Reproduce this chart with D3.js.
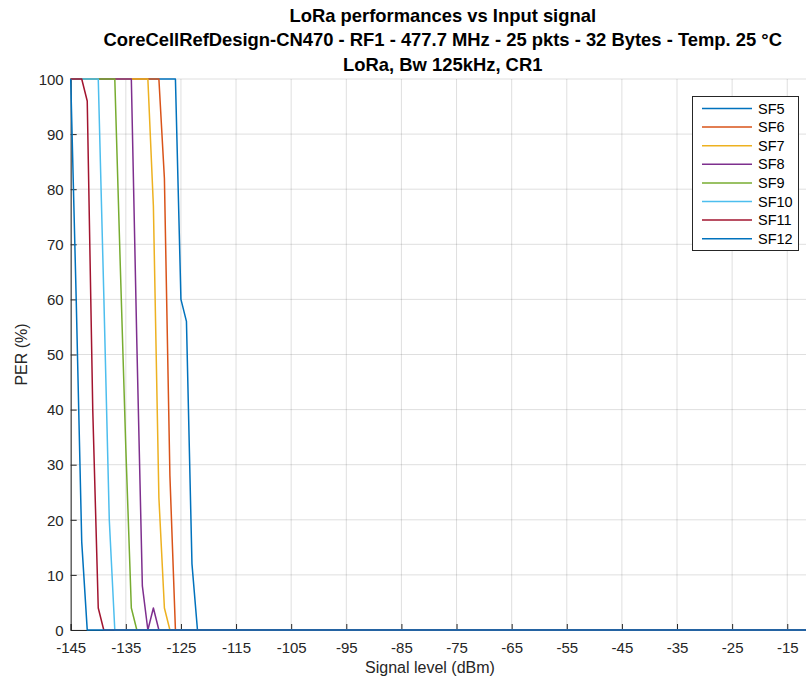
<!DOCTYPE html>
<html>
<head>
<meta charset="utf-8">
<script src="https://cdn.jsdelivr.net/npm/d3@7"></script>
<style>
  body { margin: 0; background: #fff; }
  svg { display: block; font-family: "Liberation Sans", Arial, Helvetica, sans-serif; }
</style>
</head>
<body>
<div id="chart"></div>
<script>
'use strict';

// series names, in draw order
var seriesNames = ['SF5', 'SF6', 'SF7', 'SF8', 'SF9', 'SF10', 'SF11', 'SF12'];

// signal level (dBm) / PER (%) vertices
var sf5Level  = [-145, -126, -125, -124, -123, -122, -10];
var sf5Per    = [100, 100, 60, 56, 12, 0, 0];
var sf6Level  = [-145, -129, -128, -127, -126, -10];
var sf6Per    = [100, 100, 82, 28, 0, 0];
var sf7Level  = [-145, -131, -130, -129, -128, -127, -10];
var sf7Per    = [100, 100, 77, 24, 4, 0, 0];
var sf8Level  = [-145, -134, -133, -132, -131, -130, -129, -10];
var sf8Per    = [100, 100, 52, 8, 0, 4, 0, 0];
var sf9Level  = [-145, -137, -136, -135, -134, -133, -10];
var sf9Per    = [100, 100, 66, 33, 4, 0, 0];
var sf10Level = [-145, -140, -139, -138, -137, -10];
var sf10Per   = [100, 100, 61, 20, 0, 0];
var sf11Level = [-145, -143, -142, -141, -140, -139, -10];
var sf11Per   = [100, 100, 96, 40, 4, 0, 0];
var sf12Level = [-145, -144, -143, -142, -10];
var sf12Per   = [100, 60, 16, 0, 0];

var xTicks = [-145, -135, -125, -115, -105, -95, -85, -75, -65, -55, -45, -35, -25, -15];
var yTicks = [0, 10, 20, 30, 40, 50, 60, 70, 80, 90, 100];

var titleLines = [
  'LoRa performances vs Input signal',
  'CoreCellRefDesign-CN470 - RF1 - 477.7 MHz - 25 pkts - 32 Bytes - Temp. 25 \u00B0C',
  'LoRa, Bw 125kHz, CR1'
];

// matlab default color order
var colors = ['#0072BD', '#D95319', '#EDB120', '#7E2F8E', '#77AC30', '#4DBEEE', '#A2142F', '#0072BD'];

var levels = [sf5Level, sf6Level, sf7Level, sf8Level, sf9Level, sf10Level, sf11Level, sf12Level];
var pers = [sf5Per, sf6Per, sf7Per, sf8Per, sf9Per, sf10Per, sf11Per, sf12Per];

var series = seriesNames.map(function(name, i){
  return {
    name: name,
    color: colors[i],
    points: levels[i].map(function(v, j){ return [v, pers[i][j]]; })
  };
});

var width = 806, height = 684;
var plotLeft = 70.7, plotTop = 79, plotBottom = 630;

var svg = d3.select('#chart')
  .append('svg')
  .attr('width', width)
  .attr('height', height);

// axes run past the right edge of the picture, like the cropped figure
var x = d3.scaleLinear().domain([-145, -10]).range([plotLeft, plotLeft + 135 * 5.512]);
var y = d3.scaleLinear().domain([0, 100]).range([plotBottom, plotTop]);

var grid = svg.append('g').attr('class', 'grid');

grid.selectAll('.vgrid')
  .data(xTicks)
  .enter()
  .append('line')
    .attr('x1', function(d){ return x(d); })
    .attr('x2', function(d){ return x(d); })
    .attr('y1', plotTop)
    .attr('y2', plotBottom)
    .attr('stroke', '#262626')
    .attr('stroke-opacity', 0.15);

grid.selectAll('.hgrid')
  .data(yTicks)
  .enter()
  .append('line')
    .attr('x1', plotLeft)
    .attr('x2', width)
    .attr('y1', function(d){ return y(d); })
    .attr('y2', function(d){ return y(d); })
    .attr('stroke', '#262626')
    .attr('stroke-opacity', 0.15);

// plain hyphen minus, like matlab
var fmt = function(d){ return String(d); };

// axes, ticks pointing inwards
var xAxis = d3.axisBottom(x).tickValues(xTicks).tickSize(-6).tickPadding(12).tickFormat(fmt);
var yAxis = d3.axisLeft(y).tickValues(yTicks).tickSize(-6).tickPadding(7).tickFormat(fmt);

var gx = svg.append('g')
  .attr('transform', 'translate(0,' + plotBottom + ')')
  .call(xAxis);

var gy = svg.append('g')
  .attr('transform', 'translate(' + plotLeft + ',0)')
  .call(yAxis);

[gx, gy].forEach(function(g){
  g.select('.domain').attr('stroke', '#262626');
  g.selectAll('.tick line').attr('stroke', '#262626');
  g.selectAll('.tick text')
    .attr('fill', '#262626')
    .style('font-size', '15px')
    .style('font-family', '"Liberation Sans", Arial, sans-serif');
});
gy.selectAll('.tick text').attr('dy', '0.35em');

var line = d3.line()
  .x(function(d){ return x(d[0]); })
  .y(function(d){ return y(d[1]); });

svg.selectAll('.series')
  .data(series)
  .enter()
  .append('path')
    .classed('series', 1)
    .attr('d', function(d){ return line(d.points); })
    .attr('fill', 'none')
    .attr('stroke', function(d){ return d.color; })
    .attr('stroke-width', 1.5)
    .attr('stroke-linejoin', 'round');

// titles
var mid = (x.range()[0] + x.range()[1]) / 2;
svg.selectAll('.title')
  .data(titleLines)
  .enter()
  .append('text')
    .attr('x', mid)
    .attr('y', function(d, i){ return 21.5 + i * 24.7; })
    .attr('text-anchor', 'middle')
    .style('font-size', '18.4px')
    .style('font-weight', 'bold')
    .attr('fill', '#000')
    .text(function(d){ return d; });

// axis labels
svg.append('text')
  .attr('x', 430)
  .attr('y', 673)
  .attr('text-anchor', 'middle')
  .style('font-size', '16px')
  .attr('fill', '#262626')
  .text('Signal level (dBm)');

svg.append('text')
  .attr('transform', 'translate(27,' + ((plotTop + plotBottom) / 2) + ') rotate(-90)')
  .attr('text-anchor', 'middle')
  .style('font-size', '16px')
  .attr('fill', '#262626')
  .text('PER (%)');

// legend
var legend = svg.append('g').attr('transform', 'translate(692,96)');
legend.append('rect')
  .attr('x', 0.5)
  .attr('y', 0.5)
  .attr('width', 106)
  .attr('height', 154)
  .attr('fill', '#fff')
  .attr('stroke', '#262626');

var items = legend.selectAll('.item')
  .data(series)
  .enter()
  .append('g')
    .attr('transform', function(d, i){ return 'translate(0,' + (12.5 + i * 18.6) + ')'; });

items.append('line')
  .attr('x1', 10)
  .attr('x2', 60)
  .attr('stroke', function(d){ return d.color; })
  .attr('stroke-width', 1.5);

items.append('text')
  .attr('x', 66)
  .attr('dy', '0.35em')
  .style('font-size', '14.5px')
  .attr('fill', '#000')
  .text(function(d){ return d.name; });
</script>
</body>
</html>
